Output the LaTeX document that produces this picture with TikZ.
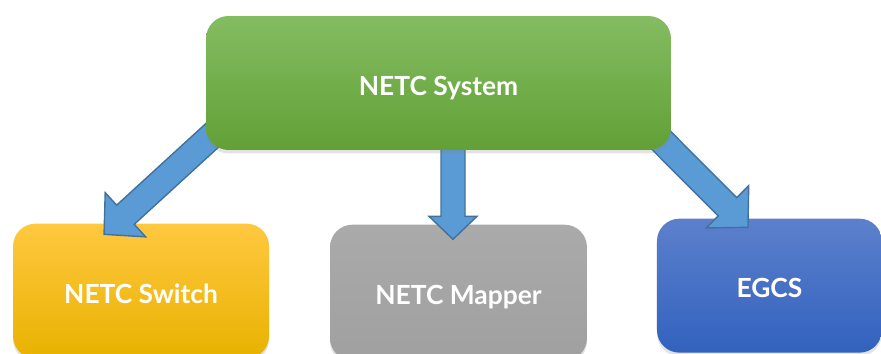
\documentclass[tikz,border=0pt]{standalone}
\usepackage{fontspec}
\setmainfont{Lato}
\usetikzlibrary{positioning,calc,shadows,backgrounds}
\definecolor{arrowfill}{RGB}{91,155,213}
\definecolor{arrowedge}{RGB}{65,113,156}
\tikzset{
box/.style={rounded corners=0.45cm,minimum height=2.68cm,text=white,
  font=\fontsize{15}{18}\selectfont\bfseries,text height=0.49cm,text depth=0pt,
  drop shadow={opacity=0.22,shadow xshift=0pt,shadow yshift=-0.07cm}}, % every block
greenbox/.style={box,top color={rgb,255:red,132;green,188;blue,98},middle color={rgb,255:red,112;green,173;blue,71},bottom color={rgb,255:red,98;green,160;blue,54}},
yellowbox/.style={box,top color={rgb,255:red,255;green,200;blue,64},middle color={rgb,255:red,255;green,192;blue,0},bottom color={rgb,255:red,232;green,178;blue,0}},
graybox/.style={box,top color={rgb,255:red,170;green,170;blue,170},bottom color={rgb,255:red,160;green,160;blue,160}},
bluebox/.style={box,top color={rgb,255:red,92;green,128;blue,204},bottom color={rgb,255:red,50;green,98;blue,190}},
blockarrow/.style={fill=arrowfill,draw=arrowedge,line width=0.8pt,line join=miter}
}
% tail, tip, half shaft, half head, head length
\newcommand{\blockarrow}[5]{
  \coordinate (#2-base) at ($(#2)!#5!(#1)$);
  \draw[blockarrow] ($(#1)!#3!90:(#2)$) -- ($(#2-base)!#3!90:(#2)$) -- ($(#2-base)!#4!90:(#2)$) -- (#2)
    -- ($(#2-base)!#4!-90:(#2)$) -- ($(#2-base)!#3!-90:(#2)$) -- ($(#1)!#3!-90:(#2)$) -- cycle;
}

\begin{document}
\begin{tikzpicture}[x=0.02cm,y=-0.02cm]
    \useasboundingbox (0,0) rectangle (881,354);
    \node[greenbox,minimum width=9.3cm] (system) at (438.5,83) {NETC System};

    \begin{pgfonlayer}{background}
    \node[yellowbox,minimum width=5.12cm,minimum height=2.7cm,below=1.46cm of system,xshift=-5.95cm] (switch) {NETC Switch};
    \node[graybox,minimum width=5.14cm,minimum height=2.72cm,below=1.48cm of system,xshift=0.4cm] (mapper) {NETC Mapper};
    \node[bluebox,minimum width=4.5cm,below=1.36cm of system,xshift=6.62cm] (egcs) {EGCS};

    \coordinate (switch-tail) at ($(system.south west)+(24,-31)$);
    \coordinate (switch-tip) at ($(switch.north)+(-37,11)$);
    \coordinate (mapper-tail) at ($(system.south)+(14.5,-20)$);
    \coordinate (mapper-tip) at ($(mapper.north)+(-5.5,15)$);
    \coordinate (egcs-tail) at ($(system.south east)+(-36,-36)$);
    \coordinate (egcs-tip) at ($(egcs.north)+(-21.5,9)$);

    \blockarrow{switch-tail}{switch-tip}{0.26cm}{0.6cm}{0.58cm}
    \blockarrow{mapper-tail}{mapper-tip}{0.24cm}{0.48cm}{0.46cm}
    \blockarrow{egcs-tail}{egcs-tip}{0.26cm}{0.6cm}{0.58cm}
    \end{pgfonlayer}
\end{tikzpicture}
\end{document}
